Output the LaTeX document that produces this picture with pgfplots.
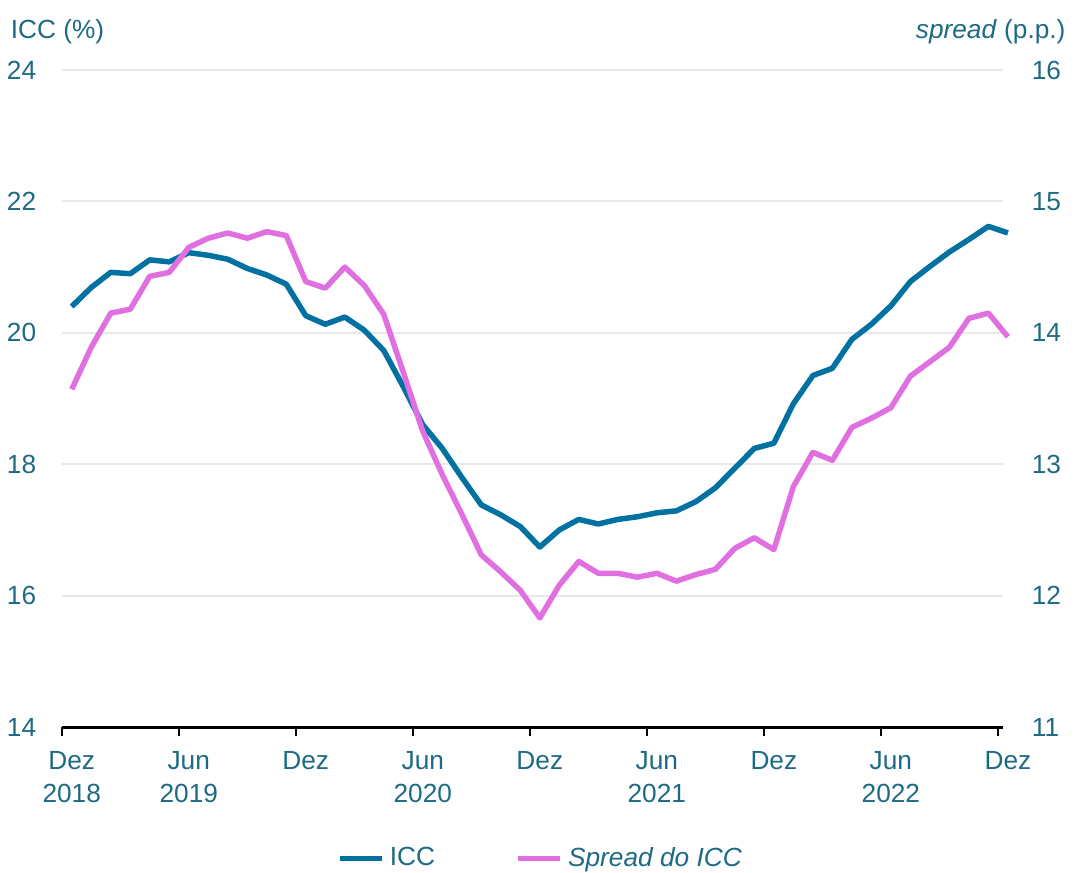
\documentclass[border=0pt]{standalone}
\usepackage{fontspec}
\setmainfont{Liberation Sans}
\usepackage{pgfplots}
\usepackage{pgfplotstable}
\pgfplotsset{compat=1.18}

\definecolor{iccblue}{HTML}{0071A0}
\definecolor{spreadpink}{HTML}{E070E0}
\definecolor{labeltxt}{HTML}{1D6A85}
\definecolor{gridgray}{HTML}{E8E8E8}

% month index 0 = Dez 2018 ... 48 = Dez 2022
\pgfplotstableread{
m  icc    spread
0  20.40  13.57
1  20.69  13.89
2  20.92  14.15
3  20.90  14.18
4  21.11  14.43
5  21.08  14.46
6  21.22  14.65
7  21.18  14.72
8  21.12  14.76
9  20.98  14.72
10 20.88  14.77
11 20.74  14.74
12 20.26  14.39
13 20.13  14.34
14 20.24  14.50
15 20.04  14.36
16 19.73  14.14
17 19.18  13.70
18 18.60  13.25
19 18.24  12.92
20 17.80  12.62
21 17.38  12.31
22 17.23  12.18
23 17.05  12.04
24 16.74  11.83
25 17.00  12.08
26 17.16  12.26
27 17.09  12.17
28 17.16  12.17
29 17.20  12.14
30 17.26  12.17
31 17.29  12.11
32 17.43  12.16
33 17.64  12.20
34 17.94  12.36
35 18.24  12.44
36 18.32  12.35
37 18.92  12.83
38 19.35  13.09
39 19.46  13.03
40 19.90  13.28
41 20.13  13.35
42 20.41  13.43
43 20.78  13.67
44 21.01  13.78
45 21.23  13.89
46 21.42  14.11
47 21.62  14.15
48 21.52  13.97
}\datatable

\begin{document}
\begin{tikzpicture}[font=\fontsize{10.5}{13.2}\selectfont]
\path[use as bounding box] (-24.8pt,-58pt) rectangle (405.2pt,290.8pt);
\pgfplotsset{
  base/.style={
    scale only axis,
    width=376.4pt, height=262.8pt,
    xmin=-0.5, xmax=47.75,
    clip=false,
    /pgf/number format/assume math mode=true,
    tick label style={text=labeltxt, font=\fontsize{10.5}{13.2}\selectfont},
  },
}
\begin{axis}[base,
    axis x line*=bottom, axis y line*=left,
    y axis line style={draw=none},
    x axis line style={black, line width=1.2pt, -},
    ymin=14, ymax=24, ytick={14,16,...,24},
    ytick style={draw=none},
    ymajorgrids, grid style={gridgray, line width=0.8pt},
    yticklabel style={xshift=-3.4pt},
    xtick={-0.5,5.5,...,47.5},
    xticklabels={{Dez\\2018},{Jun\\2019},{Dez},{Jun\\2020},{Dez},{Jun\\2021},{Dez},{Jun\\2022},{Dez}},
    xticklabel style={align=center, xshift=3.9pt, yshift=-3pt},
    xtick style={black, line width=1pt},
    major tick length=3.4pt, tick align=outside,
    legend style={at={(0.51,-0.2)}, anchor=center, draw=none, fill=none,
        legend columns=2, text=labeltxt, font=\fontsize{10.5}{13.2}\selectfont,
        /tikz/every even column/.append style={column sep=30pt}},
    legend image code/.code={\draw[#1] (0pt,0pt) -- (17pt,0pt);},
]
\addplot[iccblue, line width=2.2pt, line join=round] table[x=m, y=icc] {\datatable};
\addlegendentry{ICC}
\addlegendimage{spreadpink, line width=2.2pt}
\addlegendentry{\textit{Spread do ICC}}
\node[anchor=base west, text=labeltxt] at ([xshift=-24pt, yshift=12.8pt]rel axis cs:0,1) {ICC (\%)};
\node[anchor=base east, text=labeltxt] at ([xshift=28.5pt, yshift=12.8pt]rel axis cs:1,1) {\textit{spread} (p.p.)};
\end{axis}
\begin{axis}[base,
    axis x line=none, axis y line*=right,
    y axis line style={draw=none},
    ymin=11, ymax=16, ytick={11,...,16},
    ytick style={draw=none},
    yticklabel style={xshift=8pt},
]
\addplot[spreadpink, line width=2.2pt, line join=round] table[x=m, y=spread] {\datatable};
\end{axis}
\end{tikzpicture}
\end{document}
